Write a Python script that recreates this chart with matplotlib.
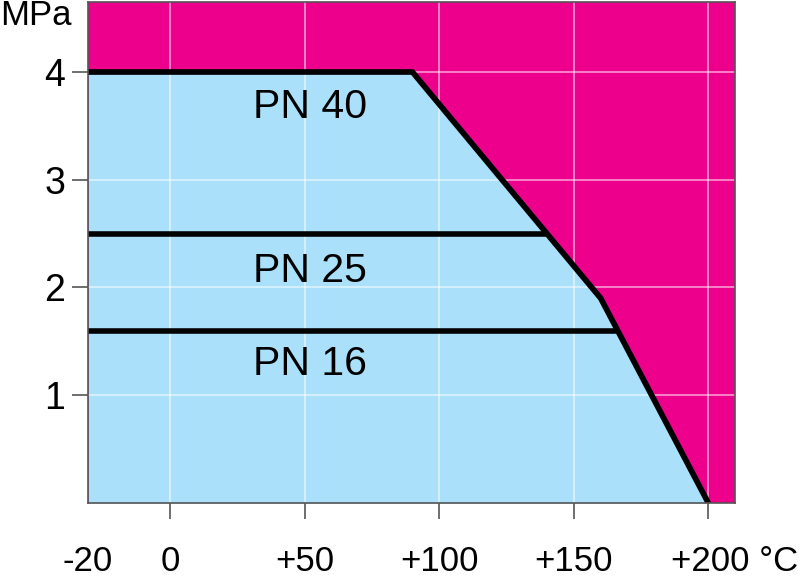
import numpy as np
import matplotlib
matplotlib.use("Agg")
import matplotlib.pyplot as plt
import matplotlib.transforms as mtransforms

# ---------------- data ----------------
# outer limit curve (PN 40) : temperature [°C] / pressure [MPa]
limit_temp = [-20, 90, 160, 200]
limit_pres = [4.0, 4.0, 1.9, 0.0]

pn25_temp = [-20, 140]
pn25_pres = [2.5, 2.5]

pn16_temp = [-20, 166]
pn16_pres = [1.6, 1.6]

labels = ["PN 40", "PN 25", "PN 16"]
label_x = [52, 52, 52]
label_y = [3.575, 2.05, 1.19]   # baselines

xticks = [-20, 0, 50, 100, 150, 200]
xticklabels = ["-20", "0", "+50", "+100", "+150", "+200 °C"]
yticks = [1, 2, 3, 4]

MAGENTA = "#EC008C"
LIGHTBLUE = "#AAE0FA"
GRAY = "#555555"

plt.rcParams["font.family"] = ["Liberation Sans", "DejaVu Sans"]

fig = plt.figure(figsize=(8, 5.8), dpi=100)
ax = fig.add_axes([0.11, 0.1328, 0.809, 0.8638])

# -20..0 range is stretched on the original chart
k = 1.53
fwd = lambda x: np.where(np.asarray(x) < 0, np.asarray(x) * k, x)
inv = lambda x: np.where(np.asarray(x) < 0, np.asarray(x) / k, x)
ax.set_xscale("function", functions=(fwd, inv))

ax.set_facecolor(MAGENTA)
ax.fill_between(limit_temp, limit_pres, 0, color=LIGHTBLUE, linewidth=0, zorder=1)

ax.plot(limit_temp, limit_pres, color="black", lw=4.1, solid_joinstyle="miter",
        solid_capstyle="butt", zorder=3)
ax.plot(pn25_temp, pn25_pres, color="black", lw=4.0, solid_capstyle="butt", zorder=3)
ax.plot(pn16_temp, pn16_pres, color="black", lw=4.0, solid_capstyle="butt", zorder=3)

for t, x, y in zip(labels, label_x, label_y):
    ax.text(x, y, t, fontsize=29.5, ha="center", va="baseline", zorder=4)

ax.set_xlim(-20, 210)
ax.set_ylim(0, 4.65)

ax.set_xticks(xticks)
ax.set_xticklabels(xticklabels)
ax.set_yticks(yticks)
ax.set_yticklabels([str(v) for v in yticks])

ax.grid(True, color="white", alpha=0.55, lw=1.3)
ax.tick_params(axis="both", length=11.5, width=1.2, color=GRAY, direction="out")
ax.tick_params(axis="x", pad=19, labelsize=25)
ax.tick_params(axis="y", pad=5, labelsize=27)

# no tick mark / grid line at the left edge
first = ax.xaxis.get_major_ticks()[0]
first.tick1line.set_visible(False)
first.gridline.set_visible(False)

# shift "+200 °C" so that "+200" sits near the tick
last = ax.get_xticklabels()[-1]
offset = mtransforms.ScaledTranslation(26 / 100, 0, fig.dpi_scale_trans)
last.set_transform(last.get_transform() + offset)

for s in ax.spines.values():
    s.set_color(GRAY)
    s.set_linewidth(1.2)
    s.set_zorder(5)

fig.text(0.0, 0.973, "MPa", fontsize=25, ha="left", va="center")

fig.savefig("out.png", dpi=100)
